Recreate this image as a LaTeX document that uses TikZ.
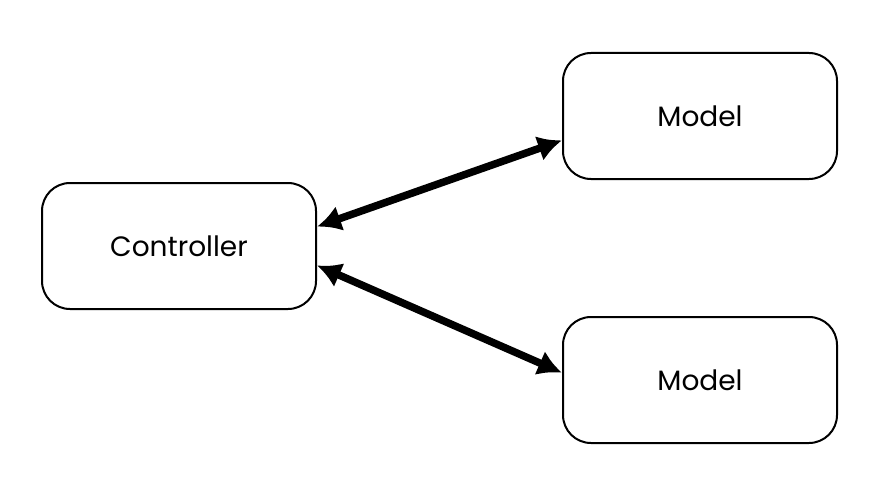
\documentclass[tikz,border=0pt]{standalone}
\usepackage{fontspec}
\setmainfont{Poppins}
\usetikzlibrary{arrows.meta}
\begin{document}
\begin{tikzpicture}[x=1pt, y=-1pt,
    box/.style = {draw, line width=2pt, rounded corners=28pt, minimum width=274pt, minimum height=126pt, font=\fontsize{28}{32}\selectfont},
    link/.style = {line width=7.5pt, {Latex[length=24pt,width=26pt]}-{Latex[length=24pt,width=26pt]}}]
    \useasboundingbox (0,0) rectangle (877,476);
    \node[box] (ctrl) at (179,246) {Controller};
    \foreach \name/\y in {modelA/116, modelB/380}
    {
        \node[box] (\name) at (700,\y) {Model};
    }
    \draw[link] (ctrl.8)--(modelA.190);
    \draw[link] (ctrl.-8)--(modelB.177);
\end{tikzpicture}
\end{document}
